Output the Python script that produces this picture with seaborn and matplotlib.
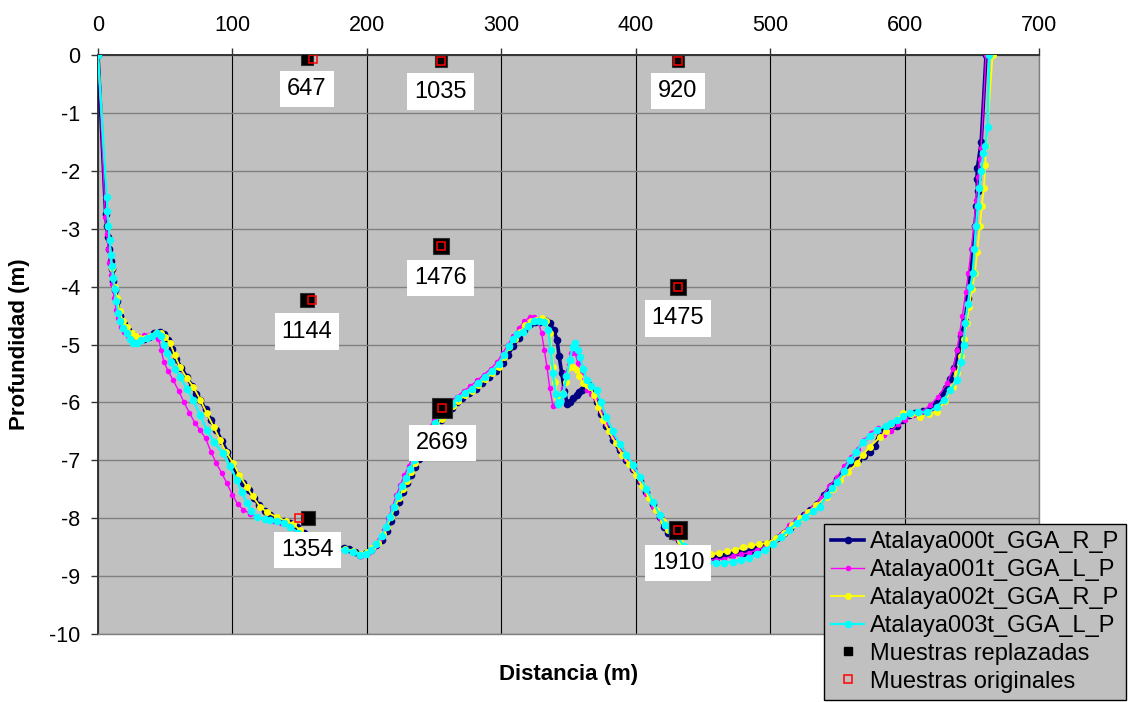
import pandas as pd
import matplotlib
matplotlib.use("Agg")
import matplotlib.pyplot as plt
import seaborn as sns
from matplotlib.lines import Line2D

plt.rcParams["font.family"] = ["Liberation Sans", "DejaVu Sans"]
plt.rcParams["axes.unicode_minus"] = False

# profile tracks: (distance m, depth m)
atalaya000 = [
    (0, 0), (5.7, -2.75), (6.5, -2.95), (7.4, -3.14), (8.5, -3.35), (9.5, -3.55), (10.4, -3.7),
    (11.5, -3.9), (12.6, -4.06), (14, -4.25), (16.4, -4.5), (19, -4.65), (22, -4.75), (26, -4.83),
    (30, -4.88), (34, -4.9), (38, -4.87), (42, -4.8), (46, -4.78), (49, -4.82), (52, -4.92),
    (55, -5.08), (58, -5.25), (62, -5.4), (66, -5.56), (70, -5.72), (73, -5.85), (76, -5.96),
    (80, -6.12), (84, -6.3), (88, -6.48), (92, -6.66), (96, -6.85), (100, -7.08), (104, -7.25),
    (108, -7.4), (112, -7.52), (116, -7.65), (120, -7.78), (124, -7.88), (128, -7.95), (133, -8.0),
    (138, -8.04), (143, -8.08), (148, -8.15), (153, -8.25), (158, -8.35), (163, -8.42), (168, -8.47),
    (173, -8.5), (178, -8.52), (183, -8.52), (187, -8.53), (191, -8.58), (195, -8.63), (199, -8.6),
    (203, -8.55), (207, -8.47), (211, -8.38), (215, -8.22), (218, -8.05), (221, -7.9), (224, -7.72),
    (227, -7.55), (230, -7.4), (233, -7.25), (236, -7.12), (239, -6.97), (243, -6.8), (247, -6.62),
    (251, -6.45), (255, -6.3), (259, -6.2), (263, -6.1), (267, -6.0), (271, -5.92), (276, -5.84),
    (281, -5.76), (286, -5.67), (291, -5.56), (296, -5.45), (301, -5.32), (305, -5.18), (309, -5.02),
    (313, -4.88), (317, -4.75), (321, -4.65), (325, -4.62), (329, -4.62), (333, -4.6), (336, -4.63),
    (339, -4.75), (341.5, -4.92), (343, -5.2), (345, -5.5), (347, -5.8), (349, -6.02), (351, -6.0),
    (353.5, -5.93), (356, -5.88), (358, -5.82), (360, -5.78), (362, -5.68), (365, -5.7), (368, -5.8),
    (371, -6.0), (374, -6.2), (378, -6.4), (383, -6.65), (388, -6.83), (393, -7.0), (398, -7.15),
    (403, -7.35), (408, -7.55), (413, -7.75), (418, -7.98), (421, -8.15), (424, -8.25), (428, -8.3),
    (432, -8.38), (436, -8.55), (440, -8.62), (445, -8.65), (450, -8.67), (455, -8.67), (460, -8.68),
    (465, -8.65), (470, -8.62), (475, -8.58), (480, -8.6), (485, -8.57), (490, -8.52), (495, -8.47),
    (500, -8.42), (505, -8.35), (510, -8.25), (515, -8.17), (520, -8.05), (525, -7.95), (530, -7.85),
    (535, -7.75), (540, -7.6), (545, -7.45), (550, -7.32), (555, -7.18), (560, -7.05), (565, -7.0),
    (570, -6.92), (574, -6.85), (578, -6.75), (582, -6.5), (586, -6.42), (590, -6.42), (594, -6.4),
    (598, -6.3), (603, -6.22), (608, -6.18), (614, -6.15), (620, -6.08), (624, -6.0), (628, -5.88),
    (631, -5.75), (634, -5.6), (637, -5.4), (640, -5.1), (642, -4.85), (645, -4.6), (647, -4.2),
    (649, -3.8), (651, -3.35), (652.4, -2.96), (653.5, -2.6), (654.5, -2.35), (653.8, -2.15),
    (654.2, -1.95), (657, -1.5), (660.6, 0),
]
atalaya001 = [
    (0, 0), (5.5, -2.8), (6.5, -3.1), (7.5, -3.35), (8.5, -3.6), (9.5, -3.8), (10.5, -3.95),
    (12, -4.2), (13.5, -4.4), (15, -4.55), (17, -4.7), (19, -4.78), (22, -4.85), (26, -4.88),
    (30, -4.86), (34, -4.84), (38, -4.83), (42, -4.85), (45, -4.9), (47, -5.1), (49, -5.3),
    (52, -5.45), (56, -5.62), (60, -5.8), (64, -6.0), (68, -6.18), (72, -6.35), (76, -6.48),
    (80, -6.62), (84, -6.85), (88, -7.05), (92, -7.22), (96, -7.4), (100, -7.6), (104, -7.76),
    (108, -7.85), (113, -7.92), (118, -7.98), (124, -8.02), (130, -8.04), (136, -8.08), (142, -8.14),
    (148, -8.25), (155, -8.35), (162, -8.43), (170, -8.5), (178, -8.52), (184, -8.55), (190, -8.58),
    (196, -8.65), (201, -8.6), (205, -8.5), (209, -8.38), (213, -8.2), (216, -8.0), (219, -7.8),
    (222, -7.6), (225, -7.42), (228, -7.25), (231, -7.1), (234, -6.95), (238, -6.8), (242, -6.6),
    (246, -6.45), (250, -6.3), (254, -6.2), (258, -6.08), (262, -5.98), (267, -5.9), (272, -5.8),
    (277, -5.72), (282, -5.62), (287, -5.52), (292, -5.42), (297, -5.3), (301, -5.15), (305, -5.0),
    (309, -4.85), (313, -4.72), (317, -4.6), (321, -4.53), (324, -4.52), (327, -4.58), (330, -4.8),
    (332, -5.1), (334, -5.39), (336, -5.75), (338.5, -6.07), (341, -6.05), (343.6, -5.96),
    (346, -5.75), (348, -5.5), (350, -5.35), (352, -5.15), (353.5, -5.08), (355, -5.15),
    (357, -5.32), (359, -5.5), (361, -5.67), (364, -5.78), (367, -5.85), (370, -5.92), (374, -6.15),
    (378, -6.38), (383, -6.6), (388, -6.8), (393, -6.98), (398, -7.15), (403, -7.35), (408, -7.58),
    (413, -7.8), (418, -8.0), (422, -8.15), (426, -8.25), (430, -8.35), (436, -8.55), (442, -8.65),
    (448, -8.7), (454, -8.72), (460, -8.72), (466, -8.7), (472, -8.65), (478, -8.62), (484, -8.6),
    (490, -8.55), (496, -8.5), (502, -8.42), (508, -8.28), (514, -8.12), (520, -8.02), (526, -7.92),
    (532, -7.8), (538, -7.65), (544, -7.45), (550, -7.28), (555, -7.1), (560, -6.95), (565, -6.8),
    (570, -6.65), (575, -6.52), (580, -6.45), (585, -6.56), (590, -6.5), (595, -6.38), (600, -6.3),
    (606, -6.22), (612, -6.17), (619, -6.05), (625, -5.9), (631.5, -5.67), (636, -5.42), (639, -5.1),
    (641, -4.8), (643, -4.5), (645.5, -4.1), (647.5, -3.77), (649.5, -3.35), (651.6, -2.96),
    (653, -2.5), (654.5, -2.1), (656, -1.8), (657, -1.6), (660.6, 0),
]
atalaya002 = [
    (0, 0), (6.5, -2.45), (7, -2.7), (7.8, -2.95), (8.6, -3.2), (9.5, -3.45), (10.5, -3.68),
    (11.5, -3.85), (12.6, -4.0), (14, -4.2), (16, -4.42), (18.5, -4.6), (21.6, -4.7), (25, -4.8),
    (28, -4.86), (31, -4.89), (35, -4.88), (39, -4.85), (43, -4.8), (47, -4.8), (50, -4.87),
    (53.6, -4.97), (57, -5.18), (61, -5.39), (66, -5.58), (70.8, -5.73), (76, -5.95), (81, -6.19),
    (86, -6.42), (90.8, -6.65), (95, -6.85), (100.6, -7.05), (105, -7.25), (110.8, -7.46),
    (115, -7.62), (120.5, -7.8), (126, -7.9), (133, -7.98), (140, -8.05), (145, -8.1), (150, -8.2),
    (157, -8.32), (164, -8.42), (171, -8.48), (178, -8.52), (184, -8.53), (190, -8.56), (196, -8.62),
    (200, -8.58), (204, -8.52), (208, -8.42), (212, -8.28), (215, -8.15), (218, -7.98), (221, -7.8),
    (224, -7.65), (227, -7.5), (230, -7.35), (233, -7.2), (236, -7.05), (240, -6.9), (244, -6.72),
    (248, -6.55), (252, -6.4), (256, -6.28), (260, -6.18), (264, -6.07), (268, -5.97), (273, -5.88),
    (278, -5.8), (283, -5.7), (288, -5.6), (293, -5.5), (298, -5.38), (302, -5.22), (306, -5.05),
    (310, -4.9), (314, -4.78), (318, -4.66), (322, -4.6), (326, -4.58), (330, -4.55), (333, -4.6),
    (336, -4.8), (337.5, -5.1), (338.6, -5.39), (340, -5.65), (341.5, -5.9), (344, -5.88),
    (346, -5.84), (348, -5.65), (351, -5.39), (353, -5.38), (356, -5.44), (358, -5.55), (361, -5.67),
    (364, -5.7), (366, -5.73), (369, -5.88), (372, -6.08), (376, -6.3), (380, -6.5), (385, -6.7),
    (390, -6.9), (395, -7.07), (400, -7.25), (405, -7.45), (410, -7.65), (415, -7.85), (420, -8.05),
    (424, -8.2), (428, -8.3), (433, -8.4), (438, -8.52), (444, -8.6), (450, -8.62), (456, -8.62),
    (462, -8.6), (468, -8.57), (474, -8.55), (480, -8.5), (486, -8.47), (492, -8.45), (498, -8.42),
    (504, -8.35), (510, -8.25), (516, -8.12), (522, -8.0), (528, -7.9), (534, -7.78), (542, -7.63),
    (547, -7.5), (552, -7.34), (558, -7.2), (564.6, -7.05), (569, -6.9), (574, -6.77),
    (581.7, -6.6), (586, -6.5), (590, -6.38), (595, -6.28), (599, -6.19), (605, -6.2),
    (611.6, -6.25), (618, -6.2), (624, -6.16), (630, -5.98), (636, -5.73), (639, -5.5), (642, -5.2),
    (644, -4.9), (646.2, -4.63), (648, -4.35), (650, -4.05), (652.4, -3.77), (654, -3.4),
    (656, -2.96), (657.5, -2.6), (659, -2.3), (660, -1.9), (660.6, -1.58), (665.5, 0),
]
atalaya003 = [
    (0, 0), (6.5, -2.45), (7, -2.7), (7.8, -2.95), (8.6, -3.2), (9.5, -3.45), (10.3, -3.65),
    (11.2, -3.85), (12.3, -4.05), (13.5, -4.25), (15, -4.45), (16.5, -4.6), (18.5, -4.72),
    (21.6, -4.8), (24, -4.9), (26, -4.97), (29, -4.97), (32, -4.92), (36.5, -4.89), (40, -4.85),
    (44, -4.8), (47, -4.85), (49, -5.0), (51, -5.15), (54, -5.3), (57.5, -5.42), (61, -5.56),
    (66, -5.76), (70.8, -5.96), (76, -6.22), (81, -6.48), (86, -6.68), (93, -6.88), (98, -7.1),
    (103.4, -7.34), (107, -7.55), (110.8, -7.74), (114, -7.88), (118, -7.98), (124, -8.01),
    (128, -8.03), (133, -8.05), (138, -8.08), (143, -8.15), (149, -8.25), (156, -8.36), (163, -8.44),
    (170, -8.5), (178, -8.54), (184, -8.55), (190, -8.58), (195, -8.63), (199, -8.62), (203, -8.55),
    (207, -8.45), (211, -8.3), (214, -8.15), (217, -7.98), (220, -7.8), (223, -7.62), (226, -7.45),
    (229, -7.3), (232, -7.15), (235, -7.0), (239, -6.85), (243, -6.68), (247, -6.5), (251, -6.35),
    (255, -6.22), (259, -6.12), (263, -6.02), (268, -5.93), (273, -5.84), (278, -5.76), (283, -5.66),
    (288, -5.56), (293, -5.46), (298, -5.34), (302, -5.18), (306, -5.02), (309, -4.9), (312, -4.82),
    (316, -4.78), (320, -4.68), (324, -4.6), (328, -4.6), (332, -4.62), (335, -4.75), (337, -5.1),
    (338.5, -5.5), (340.5, -5.85), (342, -6.02), (344, -6.0), (346, -5.85), (348.5, -5.55),
    (351, -5.27), (353, -5.05), (355, -4.98), (357, -5.1), (358.6, -5.22), (361, -5.42),
    (363.7, -5.62), (367, -5.72), (371, -5.79), (374, -6.0), (378, -6.25), (383, -6.5), (388, -6.72),
    (393, -6.9), (398, -7.08), (403, -7.28), (408, -7.5), (413, -7.72), (418, -7.95), (422, -8.12),
    (426, -8.22), (430, -8.3), (436, -8.48), (442, -8.6), (448, -8.7), (454, -8.75), (460, -8.78),
    (466, -8.77), (472, -8.75), (478, -8.72), (484, -8.68), (490, -8.62), (496, -8.55), (502, -8.45),
    (508, -8.32), (514, -8.2), (520, -8.08), (526, -7.98), (532, -7.88), (537, -7.8), (542, -7.6),
    (546, -7.48), (550, -7.38), (555, -7.18), (559.5, -7.0), (564, -6.85), (569, -6.69),
    (574, -6.58), (579.5, -6.48), (586, -6.4), (590, -6.35), (594, -6.3), (599, -6.24), (604, -6.18),
    (610, -6.17), (617, -6.17), (624, -6.08), (629, -5.95), (634, -5.79), (639, -5.62), (642, -5.3),
    (644, -5.0), (645, -4.63), (647, -4.3), (649, -4.0), (650.6, -3.77), (652, -3.35), (653, -2.96),
    (654.5, -2.6), (655.5, -2.3), (657, -2.0), (658.5, -1.7), (660, -1.58), (661.8, -1.24),
    (663, 0),
]

track_names = ["Atalaya000t_GGA_R_P", "Atalaya001t_GGA_L_P", "Atalaya002t_GGA_R_P", "Atalaya003t_GGA_L_P"]
track_colors = ["#000080", "#FF00FF", "#FFFF00", "#00FFFF"]

# samples
sample_labels = [647, 1035, 920, 1476, 1475, 1144, 2669, 1354, 1910]
replaced_dist = [155.5, 255, 431.5, 255, 431.5, 155.5, 256, 156, 431.5]
replaced_depth = [-0.07, -0.1, -0.1, -3.3, -4.0, -4.24, -6.1, -8.0, -8.2]
original_dist = [160, 255, 431.5, 255, 431.5, 159.5, 256, 149.5, 431.5]
original_depth = [-0.07, -0.1, -0.1, -3.3, -4.0, -4.24, -6.1, -8.0, -8.2]

frames = []
for name, pts in zip(track_names, [atalaya000, atalaya001, atalaya002, atalaya003]):
    d = pd.DataFrame(pts, columns=["dist", "depth"])
    d["track"] = name
    frames.append(d)
df = pd.concat(frames, ignore_index=True)

fig = plt.figure(figsize=(11.36, 7.02), dpi=100)
ax = fig.add_axes([98 / 1136, 1 - 634 / 702, 941 / 1136, 579 / 702])
ax.set_facecolor("#C0C0C0")

styles = {
    track_names[0]: dict(linewidth=2.6, markersize=5.5),
    track_names[1]: dict(linewidth=1.0, markersize=4),
    track_names[2]: dict(linewidth=1.3, markersize=5),
    track_names[3]: dict(linewidth=1.6, markersize=5.5),
}
for name, color in zip(track_names, track_colors):
    sub = df[df["track"] == name]
    sns.lineplot(
        data=sub, x="dist", y="depth", sort=False, estimator=None, ax=ax,
        color=color, marker="o", markeredgewidth=0, label=name, zorder=3,
        **styles[name],
    )

# replaced samples (black, sized by value) and originals (red hollow)
sizes = [5.76 + 0.00346 * v for v in sample_labels]
for x, y, ms in zip(replaced_dist, replaced_depth, sizes):
    ax.plot(x, y, marker="s", ms=ms, color="black", mec="#303030", mew=0.8,
            linestyle="none", zorder=5)
ax.plot(original_dist, original_depth, marker="s", ms=6, mfc="none", mec="red",
        mew=1.1, linestyle="none", zorder=6)

for x, y, ms, lab in zip(replaced_dist, replaced_depth, sizes, sample_labels):
    ax.annotate(str(lab), (x, y), xytext=(0, -(ms / 2 + 17.5)), textcoords="offset points",
                ha="center", va="center", fontsize=17, zorder=7,
                bbox=dict(boxstyle="square,pad=0.3", fc="white", ec="none"))

ax.set_xlim(0, 700)
ax.set_ylim(-10, 0)
ax.set_xticks(range(0, 701, 100))
ax.set_yticks(range(-10, 1))
ax.xaxis.tick_top()
ax.tick_params(axis="both", labelsize=15.5, direction="out", length=5, width=1, color="#333333")
ax.tick_params(axis="x", pad=9)
ax.tick_params(axis="y", pad=8)

ax.set_axisbelow(True)
ax.xaxis.grid(True, color="black", linewidth=0.8)
ax.yaxis.grid(True, color="#808080", linewidth=1.0)

for side in ["top", "left"]:
    ax.spines[side].set_color("#333333")
    ax.spines[side].set_linewidth(1.4)
for side in ["right", "bottom"]:
    ax.spines[side].set_color("#808080")
    ax.spines[side].set_linewidth(1.0)

ax.set_xlabel("Distancia (m)", fontsize=16, fontweight="bold")
ax.set_ylabel("Profundidad (m)", fontsize=16, fontweight="bold")
ax.xaxis.set_label_position("bottom")
ax.xaxis.set_label_coords(0.5, -0.052)
ax.yaxis.set_label_coords(-0.072, 0.5)

handles, labels = ax.get_legend_handles_labels()
handles += [
    Line2D([], [], marker="s", ms=6, color="black", linestyle="none"),
    Line2D([], [], marker="s", ms=6, mfc="none", mec="red", mew=1.1, linestyle="none"),
]
labels += ["Muestras replazadas", "Muestras originales"]
leg = ax.legend(handles, labels, loc="upper left", bbox_to_anchor=(824 / 1136, 1 - 524 / 702),
                bbox_transform=fig.transFigure, borderaxespad=0, fontsize=17,
                frameon=True, fancybox=False, framealpha=1, facecolor="#C0C0C0",
                edgecolor="black", handlelength=1.4, handletextpad=0.25,
                labelspacing=0.25, borderpad=0.3)
leg.get_frame().set_linewidth(1.0)
leg.set_zorder(10)

fig.savefig("out.png", dpi=100)
